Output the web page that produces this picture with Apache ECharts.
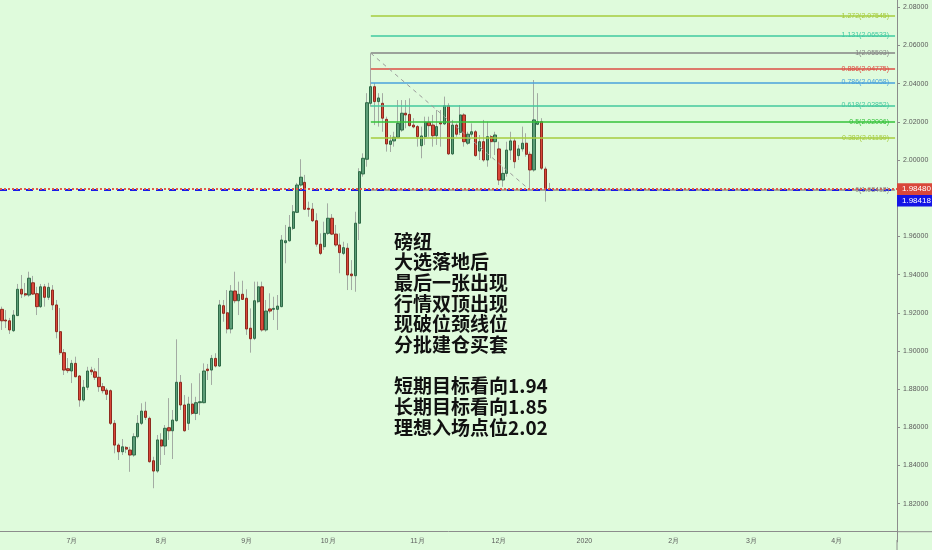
<!DOCTYPE html>
<html>
<head>
<meta charset="utf-8">
<script src="https://cdn.jsdelivr.net/npm/echarts@6/dist/echarts.min.js"></script>
<style>
html,body{margin:0;padding:0;background:#dffbdc;}
#chart{width:932px;height:550px;}
</style>
</head>
<body>
<div id="chart"></div>
<script>
// ---- calendar (weekdays shown on the category axis) ----
const startDate = '2019-06-05';
const endDate = '2020-04-22';

// ---- month tick labels ----
const tickDates = ['2019-07-01','2019-08-01','2019-09-02','2019-10-01','2019-11-01','2019-12-02','2020-01-01','2020-02-03','2020-03-02','2020-04-01'];
const tickLabels = ['7月','8月','9月','10月','11月','12月','2020','2月','3月','4月'];

// ---- daily OHLC (GBPNZD), one value per weekday from startDate ----
const open = [1.9218,1.9162,1.9158,1.9106,1.9185,1.9323,1.9300,1.9293,1.9357,1.9300,
1.9232,1.9336,1.9281,1.9319,1.9241,1.9101,1.8991,1.8907,1.8895,1.8935,
1.8869,1.8743,1.8810,1.8900,1.8891,1.8862,1.8813,1.8795,1.8792,1.8621,
1.8507,1.8472,1.8495,1.8481,1.8455,1.8551,1.8621,1.8685,1.8647,1.8425,
1.8371,1.8534,1.8502,1.8598,1.8582,1.8635,1.8836,1.8717,1.8621,1.8722,
1.8673,1.8729,1.8729,1.8905,1.8900,1.8961,1.8921,1.9237,1.9200,1.9115,
1.9314,1.9263,1.9297,1.9276,1.9119,1.9066,1.9258,1.9336,1.9110,1.9220,
1.9218,1.9218,1.9232,1.9567,1.9577,1.9642,1.9726,1.9869,1.9883,1.9747,
1.9743,1.9682,1.9559,1.9546,1.9616,1.9695,1.9612,1.9555,1.9511,1.9538,
1.9403,1.9394,1.9669,1.9927,2.0004,2.0297,2.0384,2.0306,2.0297,2.0213,
2.0082,2.0100,2.0119,2.0157,2.0245,2.0239,2.0183,2.0175,2.0075,2.0122,
2.0198,2.0183,2.0127,2.0195,2.0189,2.0284,2.0032,2.0183,2.0145,2.0236,
2.0088,2.0135,2.0148,2.0047,2.0096,2.0000,2.0122,2.0096,2.0058,1.9895,
1.9930,2.0052,2.0100,2.0023,2.0058,2.0088,2.0030,1.9948,2.0187,2.0201,
1.9953,1.9849];
const close = [1.9158,1.9157,1.9110,1.9188,1.9323,1.9298,1.9293,1.9381,1.9298,1.9232,
1.9336,1.9281,1.9333,1.9241,1.9101,1.8991,1.8900,1.8897,1.8935,1.8865,
1.8743,1.8810,1.8895,1.8891,1.8862,1.8813,1.8792,1.8773,1.8621,1.8507,
1.8472,1.8498,1.8486,1.8455,1.8551,1.8621,1.8685,1.8652,1.8420,1.8371,
1.8534,1.8502,1.8595,1.8582,1.8638,1.8836,1.8717,1.8582,1.8722,1.8673,
1.8729,1.8734,1.8895,1.8897,1.8961,1.8921,1.9241,1.9197,1.9115,1.9314,
1.9263,1.9297,1.9270,1.9115,1.9064,1.9263,1.9336,1.9110,1.9209,1.9209,
1.9223,1.9235,1.9581,1.9577,1.9648,1.9729,1.9869,1.9910,1.9742,1.9742,
1.9682,1.9559,1.9511,1.9616,1.9695,1.9612,1.9555,1.9515,1.9541,1.9398,
1.9394,1.9669,1.9939,2.0009,2.0300,2.0384,2.0306,2.0325,2.0219,2.0084,
2.0100,2.0119,2.0192,2.0245,2.0236,2.0180,2.0173,2.0122,2.0126,2.0198,
2.0180,2.0127,2.0175,2.0189,2.0284,2.0032,2.0183,2.0135,2.0236,2.0096,
2.0135,2.0148,2.0023,2.0096,2.0000,2.0122,2.0096,2.0131,1.9895,1.9930,
2.0052,2.0100,1.9991,2.0058,2.0088,2.0030,1.9948,2.0210,2.0201,1.9957,
1.9848,1.9848];
const low = [1.9110,1.9120,1.9089,1.9099,1.9183,1.9277,1.9284,1.9284,1.9293,1.9188,
1.9225,1.9232,1.9267,1.9214,1.9066,1.8979,1.8874,1.8884,1.8832,1.8862,
1.8708,1.8734,1.8795,1.8874,1.8848,1.8786,1.8778,1.8743,1.8612,1.8464,
1.8429,1.8455,1.8465,1.8367,1.8446,1.8542,1.8612,1.8638,1.8415,1.8281,
1.8362,1.8403,1.8455,1.8534,1.8434,1.8629,1.8691,1.8577,1.8586,1.8664,
1.8638,1.8664,1.8726,1.8848,1.8822,1.8914,1.8917,1.9153,1.9092,1.9092,
1.9250,1.9188,1.9267,1.9084,1.8991,1.9057,1.9250,1.9101,1.9101,1.9197,
1.9162,1.9110,1.9229,1.9459,1.9572,1.9633,1.9722,1.9860,1.9738,1.9703,
1.9675,1.9546,1.9502,1.9529,1.9607,1.9607,1.9546,1.9407,1.9502,1.9319,
1.9319,1.9310,1.9581,1.9913,1.9965,2.0279,2.0183,2.0175,2.0148,2.0044,
2.0042,2.0070,2.0114,2.0148,2.0166,2.0175,2.0166,2.0070,2.0009,2.0079,
2.0122,2.0070,2.0079,2.0070,2.0183,2.0026,2.0026,2.0122,2.0131,2.0070,
2.0079,2.0122,2.0017,2.0000,1.9991,1.9965,2.0009,2.0026,1.9869,1.9860,
1.9913,2.0000,1.9957,2.0000,2.0044,2.0017,1.9842,1.9939,2.0183,1.9948,
1.9782,1.9838];
const high = [1.9232,1.9214,1.9173,1.9214,1.9351,1.9398,1.9356,1.9415,1.9393,1.9336,
1.9351,1.9351,1.9357,1.9345,1.9267,1.9225,1.9010,1.8963,1.8953,1.8970,
1.8874,1.8848,1.8917,1.8917,1.8909,1.8963,1.8832,1.8806,1.8799,1.8638,
1.8516,1.8539,1.8502,1.8498,1.8569,1.8664,1.8726,1.8734,1.8656,1.8446,
1.8560,1.8569,1.8612,1.8753,1.8691,1.9061,1.8874,1.8769,1.8760,1.8831,
1.8760,1.8883,1.8935,1.8932,1.8979,1.8988,1.9267,1.9267,1.9319,1.9345,
1.9415,1.9363,1.9368,1.9323,1.9223,1.9363,1.9363,1.9363,1.9267,1.9302,
1.9284,1.9293,1.9607,1.9660,1.9712,1.9764,1.9880,2.0004,1.9922,1.9782,
1.9775,1.9721,1.9616,1.9677,1.9773,1.9717,1.9660,1.9616,1.9572,1.9564,
1.9476,1.9729,1.9957,2.0035,2.0350,2.0559,2.0403,2.0350,2.0350,2.0227,
2.0131,2.0148,2.0314,2.0314,2.0314,2.0323,2.0219,2.0183,2.0175,2.0227,
2.0227,2.0236,2.0262,2.0262,2.0332,2.0297,2.0210,2.0192,2.0288,2.0245,
2.0148,2.0192,2.0157,2.0131,2.0210,2.0201,2.0131,2.0148,2.0096,1.9965,
2.0096,2.0148,2.0114,2.0079,2.0175,2.0140,2.0044,2.0419,2.0350,2.0219,
1.9965,1.9880];

// ---- Fibonacci retracement drawing ----
const fibRatios = ['1.272','1.131','1','0.886','0.786','0.618','0.5','0.382','0'];
const fibPrices = [2.07545,2.06533,2.05593,2.04775,2.04058,2.02852,2.02006,2.01159,1.98418];
const fibColors = ['#a6cc3e','#3fcaa0','#858585','#dd4e44','#4aa2dc','#43c99e','#35c23a','#a6cc3e','#8a8a8a'];
const fibStartIndex = 95;   // swing high candle
const fibEndIndex = 136;    // swing low candle (0 level)

// ---- price lines ----
const lastPrice = 1.98480;
const neckPrice = 1.98418;

// ---- annotation text ----
const noteLines = ['磅纽','大选落地后','最后一张出现','行情双顶出现','现破位颈线位','分批建仓买套','','短期目标看向1.94','长期目标看向1.85','理想入场点位2.02'];

// build weekday categories
function weekdays(s, e) {
  const out = [];
  const d = new Date(s + 'T00:00:00Z');
  const end = new Date(e + 'T00:00:00Z');
  while (d <= end) {
    const w = d.getUTCDay();
    if (w !== 0 && w !== 6) out.push(d.toISOString().slice(0, 10));
    d.setUTCDate(d.getUTCDate() + 1);
  }
  return out;
}
const categories = weekdays(startDate, endDate);
const tickMap = {};
tickDates.forEach((d, i) => { tickMap[d] = tickLabels[i]; });

const wickData = open.map((o, i) => [o, close[i], low[i], high[i]]);
const bodyData = open.map((o, i) => [o, close[i], Math.min(o, close[i]), Math.max(o, close[i])]);

const lastCat = categories[categories.length - 1];
const fibLines = fibPrices.map((p, i) => [
  {
    coord: [categories[fibStartIndex], p],
    lineStyle: { color: fibColors[i], width: 1.5, type: 'solid' },
    label: {
      show: true, position: 'insideEnd', distance: [6, 0],
      formatter: fibRatios[i] + '(' + p.toFixed(5) + ')',
      color: fibColors[i], fontSize: 7, fontFamily: 'Liberation Sans, sans-serif'
    }
  },
  { coord: [lastCat, p] }
]);
const diagLine = [
  { coord: [categories[fibStartIndex], fibPrices[2]], lineStyle: { color: '#9a9a9a', width: 1, type: [4, 4] }, label: { show: false } },
  { coord: [categories[fibEndIndex], fibPrices[8]] }
];

const GRID = { left: 0, right: 35, top: 0, bottom: 8.1 };
const XOFF = -10.2;

const chart = echarts.init(document.getElementById('chart'), null, { renderer: 'canvas' });
const option = {
  animation: false,
  backgroundColor: '#dffbdc',
  title: {
    text: noteLines.join('\n'),
    left: 394, top: 231, padding: 0,
    textStyle: { fontFamily: '"Noto Sans CJK SC", sans-serif', fontSize: 19, fontWeight: 'bold', lineHeight: 20.7, color: '#111' }
  },
  grid: GRID,
  xAxis: {
    type: 'category', data: categories, boundaryGap: true, offset: XOFF,
    axisLine: { lineStyle: { color: '#8c8c8c', width: 1 } },
    axisTick: { alignWithLabel: true, length: 3, interval: (i, v) => tickMap[v] !== undefined, lineStyle: { color: '#8c8c8c' } },
    axisLabel: { interval: (i, v) => tickMap[v] !== undefined, formatter: v => tickMap[v] || '', fontSize: 7, color: '#5a5a5a', margin: 6, fontFamily: 'Liberation Sans, sans-serif' },
    splitLine: { show: false }
  },
  yAxis: {
    type: 'value', position: 'right', min: 1.80, max: 2.0838, interval: 0.02,
    axisLine: { show: true, lineStyle: { color: '#8c8c8c', width: 1 } },
    axisTick: { show: true, length: 3, lineStyle: { color: '#8c8c8c' } },
    axisLabel: { fontSize: 7, color: '#5a5a5a', margin: 6, formatter: v => v.toFixed(5), showMinLabel: false, showMaxLabel: false, fontFamily: 'Liberation Sans, sans-serif' },
    splitLine: { show: false }
  },
  series: [
    {
      type: 'candlestick', name: 'wick', data: wickData, barWidth: 0.5, z: 2,
      itemStyle: { color: '#a3aba3', color0: '#a3aba3', borderColor: '#a3aba3', borderColor0: '#a3aba3', borderWidth: 1 }
    },
    {
      type: 'candlestick', name: 'body', data: bodyData, barWidth: '72%', z: 3,
      itemStyle: { color: '#5c9d77', color0: '#d9473a', borderColor: '#2f6a47', borderColor0: '#8e2a1e', borderWidth: 1 }
    },
    {
      type: 'line', name: 'drawings', data: [], z: 4, silent: true,
      markLine: {
        symbol: ['none', 'none'], silent: true, animation: false, precision: 5,
        data: [
          ...fibLines,
          diagLine,
          { yAxis: neckPrice, lineStyle: { color: '#1a1ae8', width: 2, type: [7, 6] }, label: { show: false } },
          { yAxis: lastPrice, lineStyle: { color: '#e0584a', width: 2, type: [2, 2] }, label: { show: false } }
        ]
      }
    }
  ]
};
chart.setOption(option);

// axis-side price tags and axis line extensions, placed through the chart's own scale
const yLast = chart.convertToPixel({ yAxisIndex: 0 }, lastPrice);
const axisX = 932 - GRID.right;
const axisY = 550 - GRID.bottom + XOFF;
const tagH = 11.7;
chart.setOption({
  graphic: [
    { type: 'line', shape: { x1: axisX, y1: axisY, x2: 932, y2: axisY }, style: { stroke: '#8c8c8c', lineWidth: 1 }, z: 10 },
    { type: 'line', shape: { x1: axisX, y1: 540, x2: axisX, y2: 550 }, style: { stroke: '#8c8c8c', lineWidth: 1 }, z: 10 },
    { type: 'rect', shape: { x: axisX, y: yLast - tagH / 2, width: 35, height: tagH }, style: { fill: '#d9473a' }, z: 20 },
    { type: 'text', x: axisX + 5, y: yLast, style: { text: lastPrice.toFixed(5), fill: '#fff', fontSize: 8, fontFamily: 'Liberation Sans, sans-serif', verticalAlign: 'middle' }, z: 21 },
    { type: 'rect', shape: { x: axisX, y: yLast + tagH / 2, width: 35, height: tagH }, style: { fill: '#1414e6' }, z: 20 },
    { type: 'text', x: axisX + 5, y: yLast + tagH, style: { text: neckPrice.toFixed(5), fill: '#fff', fontSize: 8, fontFamily: 'Liberation Sans, sans-serif', verticalAlign: 'middle' }, z: 21 }
  ]
});
</script>
</body>
</html>
